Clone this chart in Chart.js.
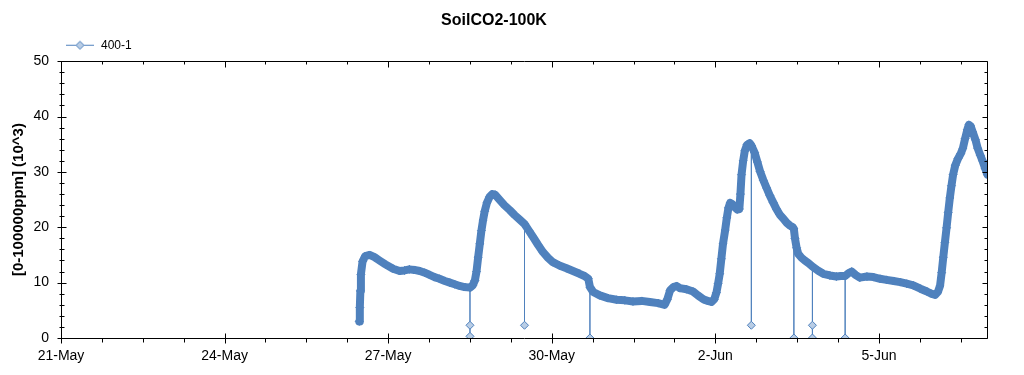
<!DOCTYPE html>
<html>
<head>
<meta charset="utf-8">
<title>SoilCO2-100K</title>
<script src="https://cdn.jsdelivr.net/npm/chart.js@4.4.1/dist/chart.umd.min.js"></script>
<style>
  body { margin: 0; background: #fff; }
  #wrap { width: 1024px; height: 375px; }
</style>
</head>
<body>
<div id="wrap"><canvas id="co2Chart"></canvas></div>
<script>
// x values are days since 21-May 00:00
const tickDays = [0, 3, 6, 9, 12, 15];
const tickLabels = ['21-May', '24-May', '27-May', '30-May', '2-Jun', '5-Jun'];
const yTicks = [0, 10, 20, 30, 40, 50];

const dayOffsets = [
  5.47, 5.48, 5.49, 5.50, 5.53, 5.58, 5.66, 5.75, 5.84, 5.95,
  6.09, 6.21, 6.30, 6.39, 6.48, 6.58, 6.67, 6.76, 6.85, 6.94,
  7.04, 7.13, 7.22, 7.31, 7.40, 7.50, 7.55, 7.59, 7.62, 7.65,
  7.68, 7.71, 7.74, 7.77, 7.81, 7.86, 7.91, 7.96, 8.04, 8.13,
  8.23, 8.32, 8.41, 8.50, 8.58, 8.66, 8.75, 8.84, 8.93, 9.02,
  9.14, 9.27, 9.39, 9.51, 9.60, 9.67, 9.70, 9.76, 9.88, 10.03,
  10.19, 10.34, 10.49, 10.65, 10.80, 10.95, 11.07, 11.12, 11.17, 11.23,
  11.29, 11.35, 11.47, 11.59, 11.68, 11.78, 11.86, 11.93, 11.98, 12.02,
  12.05, 12.08, 12.11, 12.14, 12.18, 12.21, 12.24, 12.27, 12.31, 12.36,
  12.40, 12.44, 12.46, 12.48, 12.51, 12.54, 12.58, 12.63, 12.66, 12.72,
  12.77, 12.82, 12.88, 12.94, 13.00, 13.06, 13.12, 13.18, 13.25, 13.31,
  13.37, 13.42, 13.44, 13.46, 13.49, 13.52, 13.58, 13.64, 13.71, 13.78,
  13.88, 13.98, 14.10, 14.22, 14.30, 14.38, 14.44, 14.50, 14.57, 14.65,
  14.78, 14.90, 15.02, 15.14, 15.27, 15.39, 15.51, 15.63, 15.76, 15.88,
  15.96, 16.03, 16.08, 16.12, 16.15, 16.18, 16.21, 16.24, 16.27, 16.30,
  16.33, 16.36, 16.40, 16.45, 16.50, 16.54, 16.58, 16.62, 16.65, 16.68,
  16.72, 16.77, 16.81, 16.86, 16.90, 16.95, 16.99
];
const co2Values = [
  3.0, 5.5, 8.5, 11.5, 13.8, 14.8, 15.0, 14.6, 14.0, 13.3,
  12.5, 12.1, 12.2, 12.4, 12.3, 12.1, 11.8, 11.4, 11.0, 10.7,
  10.3, 10.0, 9.7, 9.4, 9.2, 9.1, 9.5, 10.4, 12.0, 14.6,
  17.0, 19.4, 21.3, 22.9, 24.4, 25.5, 26.0, 25.9, 25.0, 24.0,
  23.1, 22.2, 21.4, 20.6, 19.4, 18.2, 16.8, 15.5, 14.5, 13.7,
  13.1, 12.6, 12.1, 11.6, 11.2, 10.7, 9.2, 8.3, 7.7, 7.2,
  6.9, 6.8, 6.6, 6.7, 6.5, 6.3, 6.0, 7.0, 8.6, 9.2,
  9.4, 9.0, 8.8, 8.4, 7.7, 7.0, 6.7, 6.5, 7.0, 8.2,
  9.8, 11.6, 14.3, 17.0, 19.5, 21.7, 23.5, 24.4, 24.2, 23.6,
  23.2, 23.3, 26.0, 29.5, 32.0, 33.8, 34.9, 35.2, 34.8, 33.5,
  31.8, 30.1, 28.5, 27.1, 25.7, 24.5, 23.3, 22.3, 21.5, 20.8,
  20.3, 20.0, 19.7, 18.0, 16.3, 15.2, 14.5, 14.0, 13.5, 12.9,
  12.2, 11.6, 11.3, 11.1, 11.2, 11.2, 11.7, 12.0, 11.4, 10.9,
  11.1, 11.0, 10.7, 10.5, 10.3, 10.1, 9.8, 9.5, 8.9, 8.4,
  8.0, 7.8, 8.3, 9.4, 11.8, 14.6, 17.3, 19.9, 22.7, 25.3,
  27.5, 29.5, 31.2, 32.4, 33.3, 34.3, 36.0, 37.6, 38.5, 38.3,
  37.2, 35.8, 34.3, 33.0, 32.0, 30.6, 29.5
];

// single dropout readings (sensor spikes down to ~0)
const dropDays = [7.50, 7.50, 8.50, 9.70, 12.66, 13.44, 13.78, 13.78, 14.38];
const dropValues = [2.3, 0.3, 2.3, 0.0, 2.3, 0.0, 2.3, 0.0, 0.0];

const bandPoints = dayOffsets.map((d, i) => ({x: d, y: co2Values[i]}));
const mainPoints = [];
dayOffsets.forEach((d, i) => {
  mainPoints.push({x: d, y: co2Values[i]});
  let hasDrop = false;
  dropDays.forEach((dd, j) => {
    if (dd === d) { mainPoints.push({x: dd, y: dropValues[j]}); hasDrop = true; }
  });
  if (hasDrop) mainPoints.push({x: d, y: co2Values[i]});
});

const lineBlue = '#4f81bd';
const markerFill = '#b9cde5';

// legend swatch: short line with a diamond on it
const swatch = document.createElement('canvas');
swatch.width = 87;
swatch.height = 11;
(function () {
  const c = swatch.getContext('2d');
  c.strokeStyle = lineBlue;
  c.lineWidth = 1;
  c.beginPath();
  c.moveTo(58, 5.5);
  c.lineTo(86, 5.5);
  c.stroke();
  c.beginPath();
  c.moveTo(72, 1.5); c.lineTo(76, 5.5); c.lineTo(72, 9.5); c.lineTo(68, 5.5);
  c.closePath();
  c.fillStyle = markerFill;
  c.fill();
  c.stroke();
})();

const framePlugin = {
  id: 'frame',
  afterDraw(chart) {
    const {ctx, chartArea: a, scales: {x, y}} = chart;
    const L = Math.round(a.left) + 0.5, R = Math.round(a.right) - 0.5;
    const T = Math.round(a.top) + 0.5, B = Math.round(a.bottom) + 0.5;
    ctx.save();
    ctx.strokeStyle = '#000';
    ctx.lineWidth = 1;
    ctx.beginPath();
    ctx.rect(L, T, R - L, B - T);
    for (let i = 0; i <= 22; i++) {
      const d = i * 0.75;
      const px = Math.round(x.getPixelForValue(d)) + 0.5;
      const major = i % 4 === 0;
      ctx.moveTo(px, major ? B - 5 : B); ctx.lineTo(px, major ? B + 5 : B + 4);
      ctx.moveTo(px, T); ctx.lineTo(px, major ? T + 6 : T + 3);
    }
    for (let v = 0; v <= 50; v += 2) {
      const py = Math.round(y.getPixelForValue(v)) + 0.5;
      const major = v % 10 === 0;
      ctx.moveTo(major ? L - 4 : L - 2, py); ctx.lineTo(major ? L + 5 : L + 3, py);
      ctx.moveTo(R, py); ctx.lineTo(major ? R - 5 : R - 3, py);
    }
    ctx.stroke();
    ctx.restore();
  }
};

Chart.defaults.color = '#000';
Chart.defaults.font.family = '"Liberation Sans", Arial, sans-serif';

new Chart(document.getElementById('co2Chart'), {
  type: 'line',
  data: {
    datasets: [
      {
        label: '400-1',
        data: mainPoints,
        borderColor: lineBlue,
        backgroundColor: markerFill,
        borderWidth: 1,
        pointStyle: 'rectRot',
        pointRadius: 4,
        pointBackgroundColor: markerFill,
        pointBorderColor: lineBlue,
        pointBorderWidth: 1,
        order: 1
      },
      {
        label: 'band',
        data: bandPoints,
        borderColor: lineBlue,
        borderWidth: 8,
        borderJoinStyle: 'round',
        borderCapStyle: 'round',
        pointRadius: 0,
        order: 0
      }
    ]
  },
  options: {
    responsive: true,
    maintainAspectRatio: false,
    animation: false,
    layout: { padding: { left: 0, right: 36, top: 0, bottom: 0 } },
    plugins: {
      title: {
        display: true,
        text: 'SoilCO2-100K',
        font: { size: 16, weight: 'bold' },
        padding: { top: 11, bottom: 1 }
      },
      legend: {
        display: true,
        position: 'top',
        align: 'start',
        labels: {
          filter: item => item.text === '400-1',
          usePointStyle: true,
          pointStyle: swatch,
          pointStyleWidth: 87,
          padding: 8,
          font: { size: 12 }
        }
      },
      tooltip: { enabled: false }
    },
    scales: {
      x: {
        type: 'linear',
        min: 0,
        max: 17,
        grid: { display: false, drawTicks: false },
        border: { display: false },
        afterBuildTicks: scale => { scale.ticks = tickDays.map(v => ({value: v})); },
        afterFit: scale => { scale.height = 37; },
        ticks: {
          padding: 10,
          maxRotation: 0,
          autoSkip: false,
          font: { size: 14 },
          callback: v => tickLabels[tickDays.indexOf(v)]
        }
      },
      y: {
        min: 0,
        max: 50,
        grid: { display: false, drawTicks: false },
        border: { display: false },
        afterBuildTicks: scale => { scale.ticks = yTicks.map(v => ({value: v})); },
        afterFit: scale => { scale.width = 61; },
        ticks: { padding: 12, font: { size: 14 } },
        title: {
          display: true,
          text: '[0-100000ppm] (10^3)',
          font: { size: 15, weight: 'bold' },
          padding: { top: 10, bottom: 0 }
        }
      }
    }
  },
  plugins: [framePlugin]
});
</script>
</body>
</html>
